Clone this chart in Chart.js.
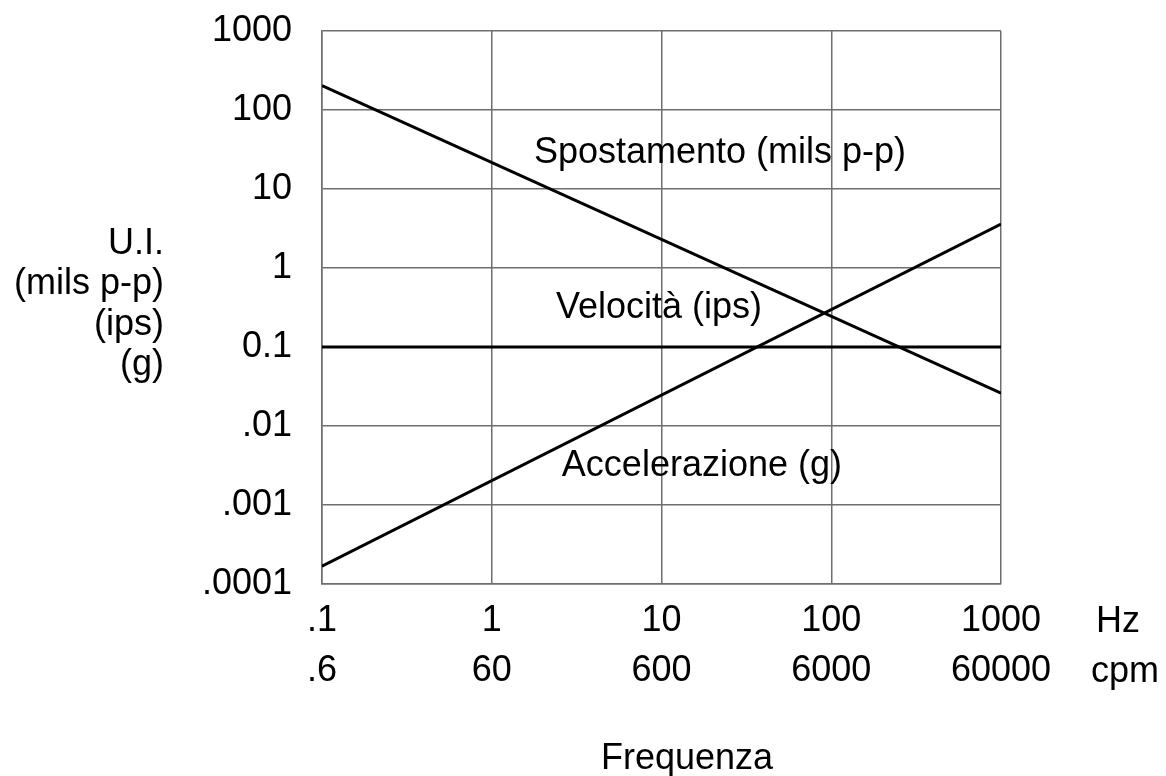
<!DOCTYPE html>
<html>
<head>
<meta charset="utf-8">
<script src="https://cdn.jsdelivr.net/npm/chart.js"></script>
<style>
  body { margin: 0; background: #fff; }
  #wrap { width: 1166px; height: 776px; }
</style>
</head>
<body>
<div id="wrap"><canvas id="myChart" width="1166" height="776"></canvas></div>
<script>
// frequency ticks (Hz) and their cpm equivalents
var hzTicks = [0.1, 1, 10, 100, 1000];
var hzLabels = [".1", "1", "10", "100", "1000"];
var cpmLabels = [".6", "60", "600", "6000", "60000"];

var yTicks = [0.0001, 0.001, 0.01, 0.1, 1, 10, 100, 1000];
var yLabels = [".0001", ".001", ".01", "0.1", "1", "10", "100", "1000"];

// line end points
var freq = [0.1, 1000];
var spostamento = [203, 0.026];
var velocita = [0.1, 0.1];
var accelerazione = [0.000168, 3.6];

// in-plot captions, anchored in data units
var captions = [
	{ text: "Spostamento (mils p-p)", x: 22.1, y: 28.6 },
	{ text: "Velocità (ips)", x: 9.67, y: 0.312 },
	{ text: "Accelerazione (g)", x: 17.3, y: 0.00312 }
];

var yTitle = ["U.I.", "(mils p-p)", "(ips)", "(g)"];

var FONT = "'Liberation Sans', Arial, sans-serif";
var FSIZE = 36;
var GRID = "#6e6e6e";

function pts(ys) {
	return freq.map(function(f, i) { return { x: f, y: ys[i] }; });
}

function lineSet(label, ys) {
	return {
		label: label,
		data: pts(ys),
		borderColor: "#000",
		borderWidth: 3,
		pointRadius: 0,
		fill: false,
		tension: 0
	};
}

var textPlugin = {
	id: "texts",
	afterDatasetsDraw: function(chart) {
		var ctx = chart.ctx;
		var xs = chart.scales.x, ys = chart.scales.y;
		ctx.save();
		ctx.fillStyle = "#000";
		ctx.font = FSIZE + "px " + FONT;
		ctx.textBaseline = "middle";
		ctx.textAlign = "center";
		captions.forEach(function(c) {
			ctx.fillText(c.text, xs.getPixelForValue(c.x), ys.getPixelForValue(c.y));
		});
		// y axis title, right aligned
		ctx.textAlign = "right";
		yTitle.forEach(function(t, i) {
			ctx.fillText(t, 164, 244 + i * 40.5);
		});
		// unit names at the end of the two x label rows
		ctx.textAlign = "left";
		ctx.fillText("Hz", 1096, 622);
		ctx.fillText("cpm", 1091, 672);
		// axis title
		ctx.textAlign = "center";
		ctx.fillText("Frequenza", 687, 759);
		ctx.restore();
	}
};

var ctx = document.getElementById("myChart");

var myChart = new Chart(ctx, {
	type: "line",
	data: {
		datasets: [
			lineSet("Spostamento (mils p-p)", spostamento),
			lineSet("Velocità (ips)", velocita),
			lineSet("Accelerazione (g)", accelerazione)
		]
	},
	options: {
		responsive: false,
		animation: false,
		layout: { padding: { left: 0, right: 165, top: 31, bottom: 0 } },
		plugins: {
			legend: { display: false },
			tooltip: { enabled: false }
		},
		scales: {
			x: {
				type: "logarithmic",
				min: 0.1,
				max: 1000,
				afterBuildTicks: function(scale) {
					scale.ticks = hzTicks.map(function(v) { return { value: v }; });
				},
				afterFit: function(scale) { scale.height = 192; },
				grid: { color: GRID, lineWidth: 1.5, drawTicks: false },
				border: { color: GRID, width: 1.5 },
				ticks: {
					color: "#000",
					font: { family: FONT, size: FSIZE, lineHeight: 1.39 },
					padding: 12,
					maxRotation: 0,
					autoSkip: false,
					callback: function(value) {
						var i = hzTicks.indexOf(value);
						return i < 0 ? "" : [hzLabels[i], cpmLabels[i]];
					}
				}
			},
			y: {
				type: "logarithmic",
				min: 0.0001,
				max: 1000,
				afterBuildTicks: function(scale) {
					scale.ticks = yTicks.map(function(v) { return { value: v }; });
				},
				afterFit: function(scale) {
					scale.width = 322;
					scale.paddingTop = 0;
					scale.paddingBottom = 0;
				},
				grid: { color: GRID, lineWidth: 1.5, drawTicks: false },
				border: { color: GRID, width: 1.5 },
				ticks: {
					color: "#000",
					font: { family: FONT, size: FSIZE },
					padding: 30,
					autoSkip: false,
					callback: function(value) {
						var i = yTicks.indexOf(value);
						return i < 0 ? "" : yLabels[i];
					}
				}
			}
		}
	},
	plugins: [textPlugin]
});
</script>
</body>
</html>
